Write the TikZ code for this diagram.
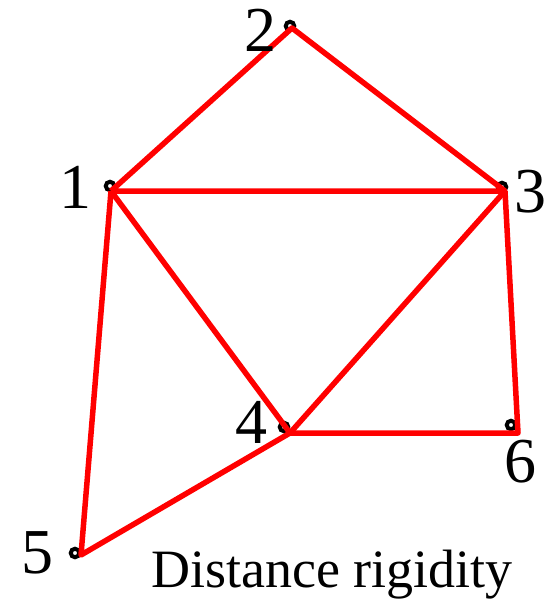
\documentclass[tikz,border=0pt]{standalone}
\usepackage{fontspec}
\setmainfont{Liberation Serif}
\newfontfamily\tnrfont{Liberation Serif}
\begin{document}
\begin{tikzpicture}[x=1pt,y=-1pt,
  edge/.style={draw=red,line width=5.5pt,line join=round},
  dotmark/.style={draw=black,line width=4pt,fill=white,circle,inner sep=0pt,minimum size=8.5pt},
  num/.style={anchor=base,inner sep=0pt,font=\tnrfont\fontsize{64}{64}\selectfont},
  caption/.style={anchor=base,inner sep=0pt,font=\tnrfont\fontsize{54}{54}\selectfont}]
\useasboundingbox (0,0) rectangle (545,603);
% dots
\node[dotmark] (d1) at (110,186) {};
\node[dotmark] (d2) at (290,26) {};
\node[dotmark] (d3) at (502,187) {};
\node[dotmark] (d4) at (284,427) {};
\node[dotmark] (d6) at (511,425) {};
\node[dotmark] (d5) at (75,553) {};
% vertices
\coordinate (v1) at (111,191);
\coordinate (v2) at (292,28);
\coordinate (v3) at (505,191);
\coordinate (v4) at (290,433);
\coordinate (v6) at (518,433);
\coordinate (v5) at (81,555);
% edges
\draw[edge] (v1) -- (v2) -- (v3) -- (v1);
\draw[edge] (v1) -- (v4) -- (v3);
\draw[edge] (v3) -- (v6) -- (v4);
\draw[edge] (v1) -- (v5) -- (v4);
% labels
\node[num] (l1) at (75,208) {1};
\node[num] (l2) at (260,51) {2};
\node[num] (l3) at (530,212) {3};
\node[num] (l4) at (251,443) {4};
\node[num] (l6) at (520,482) {6};
\node[num] (l5) at (37,573) {5};
\node[caption] (cap) at (332,587) {Distance rigidity};
\end{tikzpicture}
\end{document}
